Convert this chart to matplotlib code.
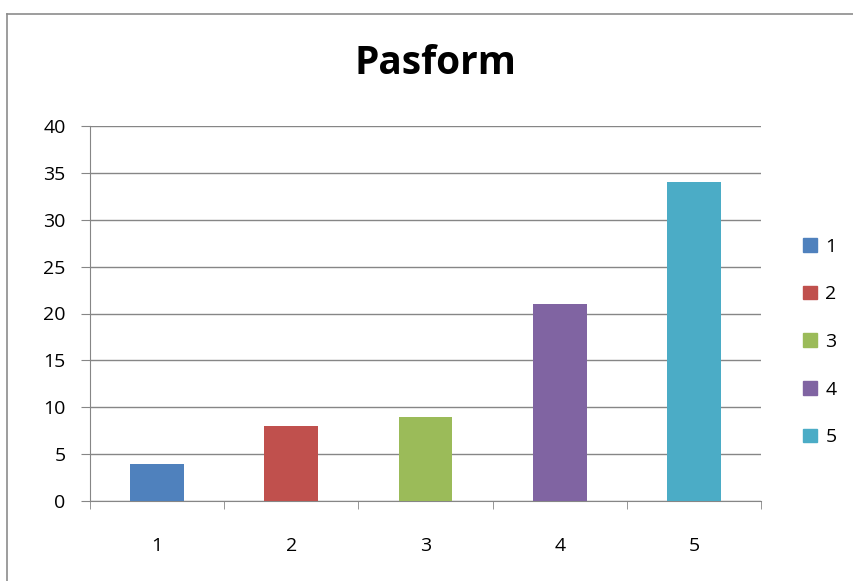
import matplotlib.pyplot as plt
from matplotlib.lines import Line2D
from matplotlib.patches import Patch

# dati
categorie = ["1", "2", "3", "4", "5"]
valori = [4, 8, 9, 21, 34]
colori = ["#4F81BD", "#C0504D", "#9BBB59", "#8064A2", "#4BACC6"]
titolo = "Pasform"

plt.rcParams['font.family'] = ['Open Sans', 'DejaVu Sans']

fig = plt.figure(figsize=(8.54, 5.81), dpi=100)
W, H = 854, 581
ax = fig.add_axes([90 / W, 1 - 501 / H, (761 - 90) / W, (501 - 126) / H])

x = list(range(len(categorie)))
ax.bar(x, valori, width=0.4, color=colori, zorder=3)

ax.set_xlim(-0.5, len(categorie) - 0.5)
ax.set_ylim(0, 40)
ax.set_yticks(range(0, 41, 5))
ax.set_xticks(x)
ax.set_xticklabels(categorie)
ax.set_xticks([i - 0.5 for i in range(len(categorie) + 1)], minor=True)

grigio = "#868686"
ax.grid(axis="y", color=grigio, linewidth=1, zorder=0)
for s in ["top", "right"]:
    ax.spines[s].set_visible(False)
for s in ["left", "bottom"]:
    ax.spines[s].set_color(grigio)
ax.tick_params(axis="x", which="major", length=0, pad=26, labelsize=14, colors="#000000")
ax.tick_params(axis="x", which="minor", length=6, color=grigio, direction="out")
ax.tick_params(axis="y", length=6.5, color=grigio, pad=11, labelsize=14)

fig.text(435 / W, 1 - 63 / H, titolo, ha="center", va="center",
         fontsize=28, fontweight="bold")

# legenda
maniglie = [Patch(facecolor=c, edgecolor=c) for c in colori]
fig.legend(maniglie, categorie, loc="center left",
           bbox_to_anchor=(803 / W, 1 - 342 / H), frameon=False,
           fontsize=14, handlelength=0.7, handleheight=0.7,
           handletextpad=0.45, labelspacing=1.52,
           borderpad=0, borderaxespad=0)

# bordo del grafico
fig.add_artist(Line2D([7.5 / W, 1], [1 - 13.5 / H, 1 - 13.5 / H],
                      transform=fig.transFigure, color="#8c8c8c", linewidth=1.2))
fig.add_artist(Line2D([7.5 / W, 7.5 / W], [0, 1 - 13.5 / H],
                      transform=fig.transFigure, color="#8c8c8c", linewidth=1.2))

fig.savefig("out.png", dpi=100)
